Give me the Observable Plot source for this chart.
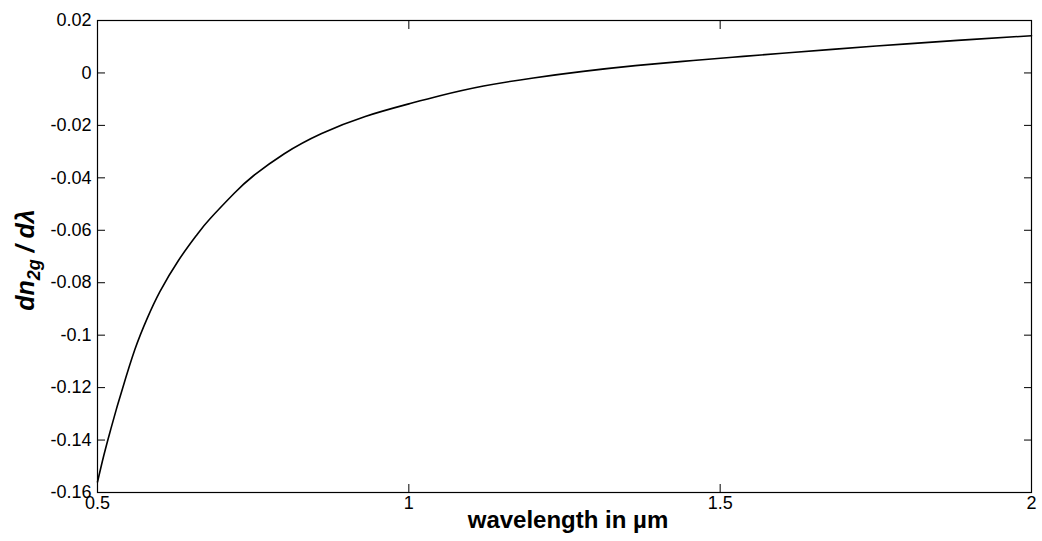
<!DOCTYPE html>
<html><head><meta charset="utf-8">
<script src="https://cdn.jsdelivr.net/npm/d3@7"></script>
<script src="https://cdn.jsdelivr.net/npm/@observablehq/plot@0.6"></script>
<style>body{margin:0;background:#fff}</style>
</head><body><div id="chart"></div><script>
const wavelength = [0.5, 0.51, 0.52, 0.53, 0.54, 0.56, 0.58, 0.60, 0.63, 0.66, 0.68, 0.72, 0.75, 0.80, 0.86, 0.93, 1.0, 1.05, 1.12, 1.2, 1.28, 1.36, 1.44, 1.52, 1.6, 1.68, 1.8, 1.9, 2.0];
const dn2g = [-0.156, -0.146, -0.137, -0.1285, -0.1205, -0.1055, -0.0935, -0.0835, -0.0715, -0.0616, -0.0558, -0.0458, -0.0393, -0.0308, -0.0231, -0.0166, -0.0118, -0.0087, -0.0050, -0.0019, 0.0006, 0.0027, 0.0044, 0.0060, 0.0075, 0.0090, 0.0111, 0.0127, 0.0142];
const xTicks = [0.5, 1, 1.5, 2];
const xTickLabels = ["0.5", "1", "1.5", "2"];
const yTicks = [-0.16, -0.14, -0.12, -0.1, -0.08, -0.06, -0.04, -0.02, 0, 0.02];
const yTickLabels = ["-0.16", "-0.14", "-0.12", "-0.1", "-0.08", "-0.06", "-0.04", "-0.02", "0", "0.02"];
const xLabel = "wavelength in \u00b5m";

const data = wavelength.map((w, i) => ({w, v: dn2g[i]}));
const fx = d => xTickLabels[xTicks.indexOf(d)];
const fy = d => yTickLabels[yTicks.findIndex(t => Math.abs(t - d) < 1e-9)];

const plot = Plot.plot({
  width: 1042, height: 541,
  marginLeft: 97, marginRight: 11, marginTop: 20, marginBottom: 49,
  style: {fontFamily: "'Liberation Sans', Arial, sans-serif", fontSize: "18px", color: "black", background: "white", overflow: "visible"},
  x: {domain: [0.5, 2]},
  y: {domain: [-0.16, 0.02]},
  marks: [
    Plot.line(data, {x: "w", y: "v", stroke: "black", strokeWidth: 1.6, curve: "natural"}),
    Plot.frame({stroke: "black", strokeWidth: 1.2}),
    Plot.axisX(xTicks, {anchor: "bottom", tickSize: -8, tickPadding: 12, tickFormat: fx, label: null, stroke: "black", fill: "black"}),
    Plot.axisX(xTicks, {anchor: "top", tickSize: -8, tickFormat: () => "", label: null, stroke: "black"}),
    Plot.axisY(yTicks, {anchor: "left", tickSize: -8, tickPadding: 14, tickFormat: fy, label: null, stroke: "black", fill: "black"}),
    Plot.axisY(yTicks, {anchor: "right", tickSize: -8, tickFormat: () => "", label: null, stroke: "black"})
  ]
});
document.getElementById("chart").append(plot);

const sx = plot.scale("x"), sy = plot.scale("y");
const svg = d3.select(plot);
const xc = (sx.apply(0.5) + sx.apply(2)) / 2;
const yc = (sy.apply(-0.16) + sy.apply(0.02)) / 2;
svg.append("text")
  .attr("x", xc + 4).attr("y", 528)
  .attr("text-anchor", "middle")
  .attr("font-family", "'Liberation Sans', Arial, sans-serif")
  .attr("font-weight", "bold").attr("font-size", 24)
  .attr("fill", "black")
  .text(xLabel);
const yl = svg.append("text")
  .attr("transform", `translate(34,${yc + 4}) rotate(-90)`)
  .attr("text-anchor", "middle")
  .attr("font-family", "'Liberation Sans', Arial, sans-serif")
  .attr("font-weight", "bold").attr("font-style", "italic").attr("font-size", 25)
  .attr("fill", "black");
yl.append("tspan").text("dn");
yl.append("tspan").attr("font-size", 18).attr("dy", 6).text("2g");
yl.append("tspan").attr("dy", -6).text(" / d\u03bb");
</script></body></html>
